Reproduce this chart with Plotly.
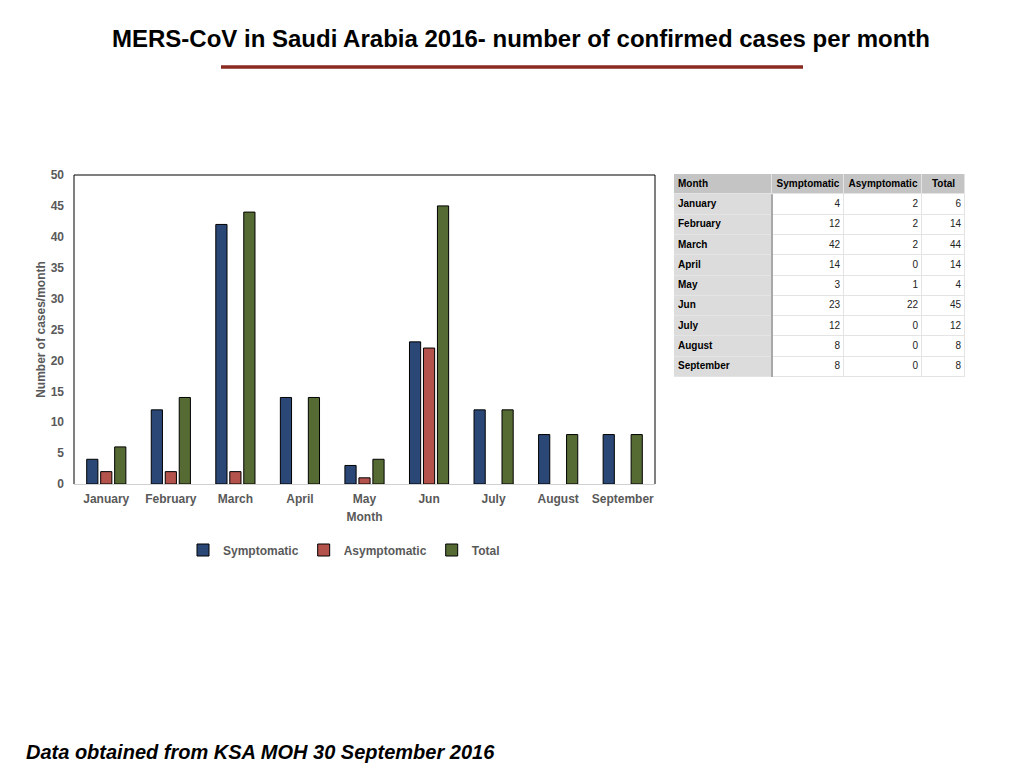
import plotly.graph_objects as go

months = ["January", "February", "March", "April", "May", "Jun", "July", "August", "September"]
symptomatic = [4, 12, 42, 14, 3, 23, 12, 8, 8]
asymptomatic = [2, 2, 2, 0, 1, 22, 0, 0, 0]
total = [6, 14, 44, 14, 4, 45, 12, 8, 8]

table_header = ["Month", "Symptomatic", "Asymptomatic", "Total"]

# page body has an 8px margin, so the figure is drawn 8px smaller and shifted
OFF = 8
W, H = 1024 - OFF, 768 - OFF
FONT = "Liberation Sans, Arial, Helvetica, sans-serif"
gray_txt = "#595959"
tick_font = dict(family=FONT, size=12, color=gray_txt, weight="bold")


def px(x):
    return (x - OFF) / W


def py(y):
    return (H - (y - OFF)) / H


fig = go.Figure()

series = [
    ("Symptomatic", symptomatic, "#2b4776"),
    ("Asymptomatic", asymptomatic, "#b4524c"),
    ("Total", total, "#566b34"),
]
for name, vals, col in series:
    fig.add_trace(go.Bar(
        x=months, y=vals, name=name,
        # no outline on empty bars, so a zero leaves no stub on the axis
        marker=dict(color=col, line=dict(color="black", width=[1 if v else 0 for v in vals])),
        xaxis="x", yaxis="y",
    ))

# ---- data table, drawn on its own pair of axes (units = pixels across, rows down)
col_w = [98, 72, 78, 43]
edges = [0]
for w in col_w:
    edges.append(edges[-1] + w)
n_rows = len(months) + 1
rows = list(range(n_rows))

z = [[0, 0, 0, 0]] + [[1, 2, 2, 2] for _ in months]
fig.add_trace(go.Heatmap(
    x=edges, y=rows, z=z, xaxis="x2", yaxis="y2",
    zmin=0, zmax=2, showscale=False, hoverinfo="skip", xgap=1, ygap=1,
    colorscale=[[0, "#c4c4c4"], [0.25, "#c4c4c4"], [0.25, "#dcdcdc"],
                [0.75, "#dcdcdc"], [0.75, "white"], [1, "white"]],
))

# header texts
centers = [(edges[i] + edges[i + 1]) / 2 for i in range(len(col_w))]
fig.add_trace(go.Scatter(
    x=[4] + centers[1:], y=[0] * 4, mode="text",
    text=["<b>%s</b>" % h for h in table_header],
    textposition=["middle right", "middle center", "middle center", "middle center"],
    textfont=dict(family=FONT, size=10, color="black"),
    xaxis="x2", yaxis="y2", showlegend=False, hoverinfo="skip",
))
# month names
fig.add_trace(go.Scatter(
    x=[4] * len(months), y=rows[1:], mode="text",
    text=["<b>%s</b>" % m for m in months], textposition="middle right",
    textfont=dict(family=FONT, size=10, color="black"),
    xaxis="x2", yaxis="y2", showlegend=False, hoverinfo="skip",
))
# numbers
for ci, vals in enumerate([symptomatic, asymptomatic, total], start=1):
    fig.add_trace(go.Scatter(
        x=[edges[ci + 1] - 4] * len(vals), y=rows[1:], mode="text",
        text=[str(v) for v in vals], textposition="middle left",
        textfont=dict(family=FONT, size=10, color="#222222"),
        xaxis="x2", yaxis="y2", showlegend=False, hoverinfo="skip",
    ))

fig.update_layout(
    width=W, height=H,
    margin=dict(l=0, r=0, t=0, b=0, autoexpand=False),
    paper_bgcolor="white", plot_bgcolor="white",
    barmode="group", bargap=0.35, bargroupgap=0.2,
    showlegend=True,
    legend=dict(
        orientation="h", x=px(344), y=py(550), xanchor="center", yanchor="middle",
        font=dict(family=FONT, size=12, color=gray_txt, weight="bold"),
        itemwidth=30, tracegroupgap=0, bgcolor="rgba(0,0,0,0)",
    ),
    xaxis=dict(
        domain=[px(74), px(655)],
        showline=True, linecolor="#d0d0d0", linewidth=1,
        ticks="", tickfont=tick_font, showgrid=False, ticklabelstandoff=4,
        title=dict(text="Month", font=tick_font, standoff=7),
        fixedrange=True,
    ),
    yaxis=dict(
        domain=[py(484), py(175)],
        range=[0, 50], dtick=5, showgrid=False, zeroline=False,
        showline=False, ticks="", tickfont=tick_font, ticklabelstandoff=9,
        title=dict(text="Number of cases/month", font=tick_font, standoff=2),
        fixedrange=True,
    ),
    xaxis2=dict(
        domain=[px(674), px(965)], anchor="y2", range=[edges[0], edges[-1]],
        visible=False, fixedrange=True,
    ),
    yaxis2=dict(
        domain=[py(377), py(174)], anchor="x2", range=[n_rows - 0.5, -0.5],
        visible=False, fixedrange=True,
    ),
)

# plot frame: left, top, right in black
for x0, y0, x1, y1 in [(0, 0, 0, 1), (0, 1, 1, 1), (1, 0, 1, 1)]:
    fig.add_shape(type="line", xref="x domain", yref="y domain",
                  x0=x0, y0=y0, x1=x1, y1=y1, line=dict(color="black", width=1))

# grid colour of the table shows through the heatmap gaps
fig.add_shape(type="rect", xref="x2 domain", yref="y2 domain", x0=0, x1=1, y0=0, y1=1,
              fillcolor="#e4e4e4", line=dict(width=0), layer="below")
# darker separator after the Month column
fig.add_shape(type="line", xref="x2", yref="y2 domain",
              x0=edges[1], x1=edges[1], y0=0, y1=1 - 1 / n_rows,
              line=dict(color="#a8a8a8", width=2))

# title and underline
fig.add_annotation(
    text="MERS-CoV in Saudi Arabia 2016- number of confirmed cases per month",
    xref="paper", yref="paper", x=px(521), y=py(38), xanchor="center", yanchor="middle",
    showarrow=False,
    font=dict(family=FONT, size=24, color="black", weight="bold"),
)
fig.add_shape(type="line", xref="paper", yref="paper",
              x0=px(221), x1=px(803), y0=py(67), y1=py(67),
              line=dict(color="#8b2a20", width=3.5))

fig.add_annotation(
    text="Data obtained from KSA MOH 30 September 2016",
    xref="paper", yref="paper", x=px(24), y=py(752), xanchor="left", yanchor="middle",
    showarrow=False,
    font=dict(family=FONT, size=20, color="black", weight="bold", style="italic"),
)

fig.write_html("out.html")
